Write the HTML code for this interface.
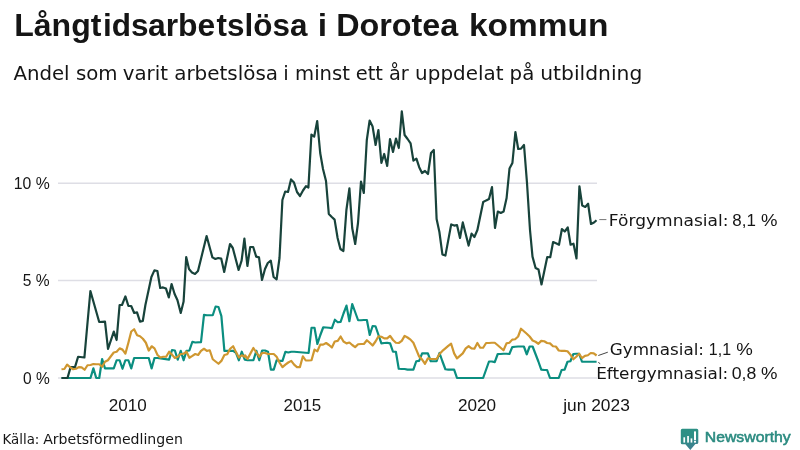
<!DOCTYPE html>
<html lang="sv"><head><meta charset="utf-8"><title>Långtidsarbetslösa i Dorotea kommun</title>
<style>
html,body{margin:0;padding:0;background:#fff;}
body{width:800px;height:450px;overflow:hidden;font-family:"Liberation Sans",sans-serif;}
svg{display:block;}
text{fill:#151515;}
</style></head><body>
<svg width="800" height="450" viewBox="0 0 800 450">
<rect width="800" height="450" fill="#fff"/>
<text y="35.6"><tspan x="14.16" font-size="31" font-weight="bold" font-family="Liberation Sans, sans-serif" textLength="87.3" lengthAdjust="spacingAndGlyphs">Långt</tspan><tspan x="103" font-size="31" font-weight="bold" font-family="Liberation Sans, sans-serif" textLength="45.6" lengthAdjust="spacingAndGlyphs">ids</tspan><tspan x="148" font-size="31" font-weight="bold" font-family="Liberation Sans, sans-serif" textLength="67.3" lengthAdjust="spacingAndGlyphs">arbe</tspan><tspan x="216.6" font-size="31" font-weight="bold" font-family="Liberation Sans, sans-serif" textLength="90.8" lengthAdjust="spacingAndGlyphs">tslösa</tspan> <tspan x="317.88" font-size="31" font-weight="bold" font-family="Liberation Sans, sans-serif" textLength="9.35" lengthAdjust="spacingAndGlyphs">i</tspan> <tspan x="336.16" font-size="31" font-weight="bold" font-family="Liberation Sans, sans-serif" textLength="122.19" lengthAdjust="spacingAndGlyphs">Dorotea</tspan> <tspan x="468.91" font-size="31" font-weight="bold" font-family="Liberation Sans, sans-serif" textLength="139.42" lengthAdjust="spacingAndGlyphs">kommun</tspan></text>
<text y="79.5"><tspan x="13.42" font-size="19.7" font-weight="normal" font-family="DejaVu Sans, sans-serif" textLength="56.21" lengthAdjust="spacingAndGlyphs">Andel</tspan> <tspan x="75.9" font-size="19.7" font-weight="normal" font-family="DejaVu Sans, sans-serif" textLength="41.62" lengthAdjust="spacingAndGlyphs">som</tspan> <tspan x="122.79" font-size="19.7" font-weight="normal" font-family="DejaVu Sans, sans-serif" textLength="45.16" lengthAdjust="spacingAndGlyphs">varit</tspan> <tspan x="174.2" font-size="19.7" font-weight="normal" font-family="DejaVu Sans, sans-serif" textLength="103.92" lengthAdjust="spacingAndGlyphs">arbetslösa</tspan> <tspan x="283.19" font-size="19.7" font-weight="normal" font-family="DejaVu Sans, sans-serif" textLength="5.5" lengthAdjust="spacingAndGlyphs">i</tspan> <tspan x="295.06" font-size="19.7" font-weight="normal" font-family="DejaVu Sans, sans-serif" textLength="54.89" lengthAdjust="spacingAndGlyphs">minst</tspan> <tspan x="355.72" font-size="19.7" font-weight="normal" font-family="DejaVu Sans, sans-serif" textLength="27.15" lengthAdjust="spacingAndGlyphs">ett</tspan> <tspan x="388.88" font-size="19.7" font-weight="normal" font-family="DejaVu Sans, sans-serif" textLength="19.8" lengthAdjust="spacingAndGlyphs">år</tspan> <tspan x="415.13" font-size="19.7" font-weight="normal" font-family="DejaVu Sans, sans-serif" textLength="88.32" lengthAdjust="spacingAndGlyphs">uppdelat</tspan> <tspan x="509.62" font-size="19.7" font-weight="normal" font-family="DejaVu Sans, sans-serif" textLength="24.66" lengthAdjust="spacingAndGlyphs">på</tspan> <tspan x="540.24" font-size="19.7" font-weight="normal" font-family="DejaVu Sans, sans-serif" textLength="102.09" lengthAdjust="spacingAndGlyphs">utbildning</tspan></text>
<g stroke="#dedee5" stroke-width="1.5">
<line x1="58" x2="597" y1="183.25" y2="183.25"/>
<line x1="58" x2="597" y1="280.55" y2="280.55"/>
<line x1="58" x2="597" y1="378.05" y2="378.05"/>
</g>
<text x="13.82" y="188.8" font-size="16.6" font-weight="normal" font-family="Liberation Sans, sans-serif" textLength="35.96" lengthAdjust="spacingAndGlyphs">10 %</text>
<text x="22.86" y="286.4" font-size="16.6" font-weight="normal" font-family="Liberation Sans, sans-serif" textLength="26.81" lengthAdjust="spacingAndGlyphs">5 %</text>
<text x="23.04" y="383.8" font-size="16.6" font-weight="normal" font-family="Liberation Sans, sans-serif" textLength="26.76" lengthAdjust="spacingAndGlyphs">0 %</text>
<text x="108.88" y="411" font-size="16.6" font-weight="normal" font-family="Liberation Sans, sans-serif" textLength="37.94" lengthAdjust="spacingAndGlyphs">2010</text>
<text x="283.61" y="411" font-size="16.6" font-weight="normal" font-family="Liberation Sans, sans-serif" textLength="37.67" lengthAdjust="spacingAndGlyphs">2015</text>
<text x="457.98" y="411" font-size="16.6" font-weight="normal" font-family="Liberation Sans, sans-serif" textLength="38.2" lengthAdjust="spacingAndGlyphs">2020</text>
<text x="563.21" y="411" font-size="16.6" font-weight="normal" font-family="Liberation Sans, sans-serif" textLength="66.62" lengthAdjust="spacingAndGlyphs">jun 2023</text>
<g fill="none" stroke-width="2.2" stroke-linejoin="round" stroke-linecap="butt">
<polyline stroke="#0b8e80" points="61.5,378 90.5,378 93.38,368.38 96.25,378 99.25,378 102.12,359 105,368.38 113.75,368.38 116.62,360.25 119.62,360.25 122.5,368.75 125.38,360.25 128.38,360.25 131.25,368.38 134.12,358 148.75,358 151.62,368.38 151.62,368.38 154.5,358 157.5,358 169.12,359.62 172,350 174.88,350.5 177.75,359.62 180.75,350.88 183.62,360.25 186.5,350.88 189.38,350.5 192.38,341.75 195.25,342.5 201,342.12 204,314.88 206.88,315.25 212.75,315.25 215.62,306.5 218.5,307 221.38,316.12 224.38,350.88 233.12,350.88 236,352.75 238.88,360.25 241.75,351.75 244.75,359.62 245,359.62 247.62,360.25 253.38,360.25 256.38,350.88 259.25,360.25 262.12,350.5 265,350.5 268,351.75 270.88,369.62 273.75,369.62 276.62,360.25 279.62,360.88 282.5,360.88 285.38,351.75 288.25,352.5 291.25,351.75 294.12,351.75 308.62,353 311.5,327.75 314.5,327.75 317.38,344 320.25,335.25 323.25,327.25 326.12,327.5 329,327.75 331.88,328.12 334.88,319.75 337.75,322.25 340.62,321.88 343.5,313.5 346.5,305.62 349.38,321.25 352.25,304 358.12,320.25 361,320.25 363.88,320 366.88,320 369.75,335 372.62,326 375.5,326.25 378.5,335 381.38,343.38 384.25,343 387.12,342.75 390.12,343.38 393,351.75 395.88,351.75 398.75,368.75 401.75,369 404.62,369 407.5,369.62 410.5,369.62 413.38,369.62 416.25,361.25 419.12,360.88 422.12,353.38 425,353.38 427.88,353.38 430.75,361.25 433.75,361.25 436.62,361.25 439.5,353 442.38,361.25 445.38,369.25 448.25,369.62 451.12,369.62 454.12,369.62 457,378 459.88,378 483.12,378 489,361.5 491.88,361.5 494.75,362.12 497.75,354 500.62,354 503.5,353.75 506.5,353.75 509.38,354 512.25,347.12 515.12,346.75 518.12,346.5 521,346.5 523.88,346.5 526.75,354.25 529.62,346.5 532.62,346.5 535.5,354 538.38,361.5 541.25,369.62 544.25,370 547.12,370 550,378 553,378 555.88,378 558.75,378 561.62,370 564.62,369.62 567.5,361.75 570.38,361.25 573.38,354 576.25,353.75 579.12,353.75 582,361.75 585,361.75 596.62,361.75"/>
<polyline stroke="#18433b" points="61.5,378 67.5,378 70.6,367.1 75,367.1 78.1,356.75 84.4,357.5 87.4,324 90.4,291 99.2,322 105,321.6 108,349 113.8,331.6 116.6,340 119.6,305 122,305 125.4,296.4 128.4,306 131.2,306 134.2,313 137,312.4 140,321.6 142.8,321 145.4,305 151.4,277 154.4,270.4 157.4,271 160.2,288 163,287.4 166,288.6 168.8,297.4 171.6,284 174.6,294 177.4,300 180.75,313 183.6,301.5 186.2,257 189,269 192,272.6 195,274 198,271 206.6,236 212.4,257.4 215.4,259 218.2,258 221.2,258.6 224.2,272 230,244 232.8,248 238.6,270 241.6,260.6 244.4,238.6 247.4,266 250.2,247 253.2,247 256.2,256.6 259,257.4 262,280 265,269 267.8,263 270.8,260.6 273.6,277 276.6,279.4 279.5,258 282.4,200 285.2,191.5 288,192 291,179.4 294,182.6 297,192 300,196 303,190.5 306,186.2 308.4,187.5 311.4,134.6 314.2,136.6 317.2,121 320.2,153 323,169 326,181 328.8,214 331.8,217 334.6,219.6 337.6,238 340.4,249 343.4,251 346.4,210 349.4,188.4 352.2,228 355.2,244 358,223 361,181.5 363.8,193 366.8,140 369.6,120.6 372.6,126.6 375.6,145 378.4,130 381.4,163 384.2,154 387.2,166 390,139 393,152 396,138.6 398.8,148 401.8,111.4 404.6,135 407.6,139 410.6,143.4 413.4,160.6 416.4,158.6 419.2,167.2 422,173 425,171 428,174 431,153 433.8,150 436.6,219 439.4,232 442.4,254.4 445.4,255.6 451.2,224.4 454.2,225.6 457,225 460,238 462.8,222.4 468.6,245.6 471.6,233.6 474.4,237 477.4,230 483.2,202 486.2,200.4 489,199 492,187 495,228 497.8,211.6 500.8,213 503.6,211.6 506.6,198 509.5,168.6 512.4,163 515.4,132 518.2,149 521,148.6 524,145 527,183 530,230 532.5,256.6 535.6,268 538.5,269.5 541.5,284.5 547.25,257 550.25,257.25 553.1,242 556,243.25 559,244.75 561.9,229 564.75,231.5 567.75,227.5 570.6,244.75 573.5,243.75 576.5,258.5 579.4,186.25 582.25,205.6 585.25,206.9 588.1,203.75 591,224 594,222.5 596.5,220.25"/>
<polyline stroke="#cf9730" points="61.5,369.25 64.38,369 67.12,364.62 70,367.12 73.12,369.25 76,368.75 78.75,367.12 81.62,367.38 84.62,369.75 87.5,365.25 90.5,365 93.38,364 96.25,364.25 99.25,364.25 102.12,366.75 105,361.75 107.88,360.25 110.88,356.25 113.75,352.5 116.62,351.75 119.62,348.38 122.5,349.62 125.38,353.62 128.38,342.75 131.25,331.5 134.12,329.25 137.12,335.25 140,336.25 142.88,338.75 145.88,342.75 148.75,350.5 151.62,346.5 151.62,346.25 154.5,348.38 157.5,355 160.38,357.5 163.25,356.75 166.12,356.75 169.12,351.75 172,354.62 174.88,358 177.75,356.75 180.75,354 183.62,353.75 186.5,351.75 189.38,357.75 192.38,355.88 195.25,354 198.12,355 201,350.88 204,348.75 206.88,350.88 209.75,350.25 212.75,359.25 215.62,361.5 218.5,363.75 221.38,360.88 224.38,355 227.25,354.25 230.12,348.75 233.12,346.25 236,352.12 238.88,357.5 241.75,355.25 244.75,356.75 245,355.25 247.62,358.75 250.5,353.38 253.38,348 256.38,352.5 259.25,356.75 262.12,353 265,353 268,354 270.88,354 273.75,354 276.62,356.75 279.62,362.75 282.5,367.12 285.38,364.62 288.25,362.5 291.25,360.88 294.12,364.62 297,367.12 299.88,367.12 302.88,356.25 305.75,360.5 308.62,360.5 311.5,360.25 314.5,349.62 317.38,351.25 320.25,344.62 323.12,344.62 326.12,343 329,345 331.88,347.5 334.75,341.5 337.75,340.88 340.62,336.5 343.5,341.5 346.5,343.38 349.38,342.5 352.25,345 355.12,347.12 358.12,344.25 361,344 363.88,344 366.88,340.25 369.75,342.75 372.62,345.5 375.5,341.5 378.5,336.25 381.38,336.75 384.25,338.38 387.12,338.38 390.12,335.88 393,340 395.88,342.75 398.75,343 401.75,340.88 404.62,335.88 407.5,337.5 410.5,339.62 413.38,342.75 416.25,349.62 419.12,356.5 422.12,359.62 425,363.75 427.88,358.38 430.75,359 433.75,359 436.62,359 439.5,354 442.38,350.88 445.38,348.38 448.25,345.88 451.12,343.75 454.12,353.38 457,358.38 459.88,355.88 462.75,353.38 465.75,348.38 468.62,346.25 471.5,348.38 474.38,348.75 477.38,343 480.25,347.75 483.12,347.75 486.12,343 489,343 491.88,342.75 494.75,342.75 497.75,345.25 500.62,347.75 503.5,350.25 506.5,343.38 509.38,342.75 512.25,339.62 515.12,339.25 518.12,336.5 521,328.75 523.88,331.25 526.75,333.75 529.62,336.5 532.62,340.5 535.5,341.75 538.38,343.75 541.25,340.88 544.25,341.25 547.12,343 550,343.38 553,346.25 555.88,346.5 558.75,350.5 561.62,350.88 564.62,350.88 567.5,351.25 570.38,354.62 573.38,359.25 576.25,356.75 579.12,353.75 582,358 585,355.88 587.88,355.25 590.75,353 593.75,353.38 596.62,355.5"/>
</g>
<g fill="none">
<line x1="599.3" y1="219.6" x2="606.4" y2="219.6" stroke="#767676" stroke-width="1"/>
<line x1="598.3" y1="355.5" x2="607.8" y2="352.2" stroke="#444" stroke-width="1"/>
<line x1="598.3" y1="362.4" x2="600.2" y2="363.7" stroke="#444" stroke-width="1"/>
</g>
<text y="225.7"><tspan x="608.86" font-size="15.7" font-weight="normal" font-family="DejaVu Sans, sans-serif" textLength="119.54" lengthAdjust="spacingAndGlyphs">Förgymnasial:</tspan> <tspan x="732.26" font-size="16.6" font-weight="normal" font-family="Liberation Sans, sans-serif" textLength="23.56" lengthAdjust="spacingAndGlyphs">8,1</tspan> <tspan x="760.9" font-size="16.6" font-weight="normal" font-family="Liberation Sans, sans-serif" textLength="16.48" lengthAdjust="spacingAndGlyphs">%</tspan></text>
<text y="355.1"><tspan x="609.84" font-size="15.7" font-weight="normal" font-family="DejaVu Sans, sans-serif" textLength="94.16" lengthAdjust="spacingAndGlyphs">Gymnasial:</tspan> <tspan x="708.86" font-size="16.6" font-weight="normal" font-family="Liberation Sans, sans-serif" textLength="22.23" lengthAdjust="spacingAndGlyphs">1,1</tspan> <tspan x="736.15" font-size="16.6" font-weight="normal" font-family="Liberation Sans, sans-serif" textLength="16.57" lengthAdjust="spacingAndGlyphs">%</tspan></text>
<text y="379.3"><tspan x="596.17" font-size="15.7" font-weight="normal" font-family="DejaVu Sans, sans-serif" textLength="132.12" lengthAdjust="spacingAndGlyphs">Eftergymnasial:</tspan> <tspan x="731.67" font-size="16.6" font-weight="normal" font-family="Liberation Sans, sans-serif" textLength="24.65" lengthAdjust="spacingAndGlyphs">0,8</tspan> <tspan x="760.9" font-size="16.6" font-weight="normal" font-family="Liberation Sans, sans-serif" textLength="16.48" lengthAdjust="spacingAndGlyphs">%</tspan></text>
<text y="444"><tspan x="2.45" font-size="13.75" font-weight="normal" font-family="DejaVu Sans, sans-serif" textLength="36.92" lengthAdjust="spacingAndGlyphs">Källa:</tspan> <tspan x="43.18" font-size="13.75" font-weight="normal" font-family="DejaVu Sans, sans-serif" textLength="139.66" lengthAdjust="spacingAndGlyphs">Arbetsförmedlingen</tspan></text>
<g id="logo">
<defs><linearGradient id="lg" x1="0" y1="0" x2="0.35" y2="1"><stop offset="0" stop-color="#2b9184"/><stop offset="0.55" stop-color="#2f8e86"/><stop offset="1" stop-color="#3d7f90"/></linearGradient></defs>
<path d="M682.3 428.7h14.5a1.5 1.5 0 0 1 1.5 1.5v12.3a1.6 1.6 0 0 1-1.6 1.6h-1.3l-5.1 5.8-4.9-5.6h-3.1a1.5 1.5 0 0 1-1.5-1.5v-12.6a1.5 1.5 0 0 1 1.5-1.5z" fill="url(#lg)"/>
<g fill="#fff">
<rect x="683.4" y="437.3" width="1.7" height="5.3"/>
<rect x="687.2" y="436" width="1.7" height="6.6"/>
<rect x="690.6" y="438.4" width="1.7" height="4.2"/>
<rect x="694" y="431.4" width="2" height="8.7"/>
<rect x="694" y="440.8" width="2" height="1.8"/>
</g>
<text x="704.77" y="441.9" font-size="15.2" font-weight="normal" font-family="Liberation Sans, sans-serif" textLength="86" lengthAdjust="spacingAndGlyphs" style="fill:#2b8b80;stroke:#2b8b80;stroke-width:0.55">Newsworthy</text>
</g>
</svg>
</body></html>
